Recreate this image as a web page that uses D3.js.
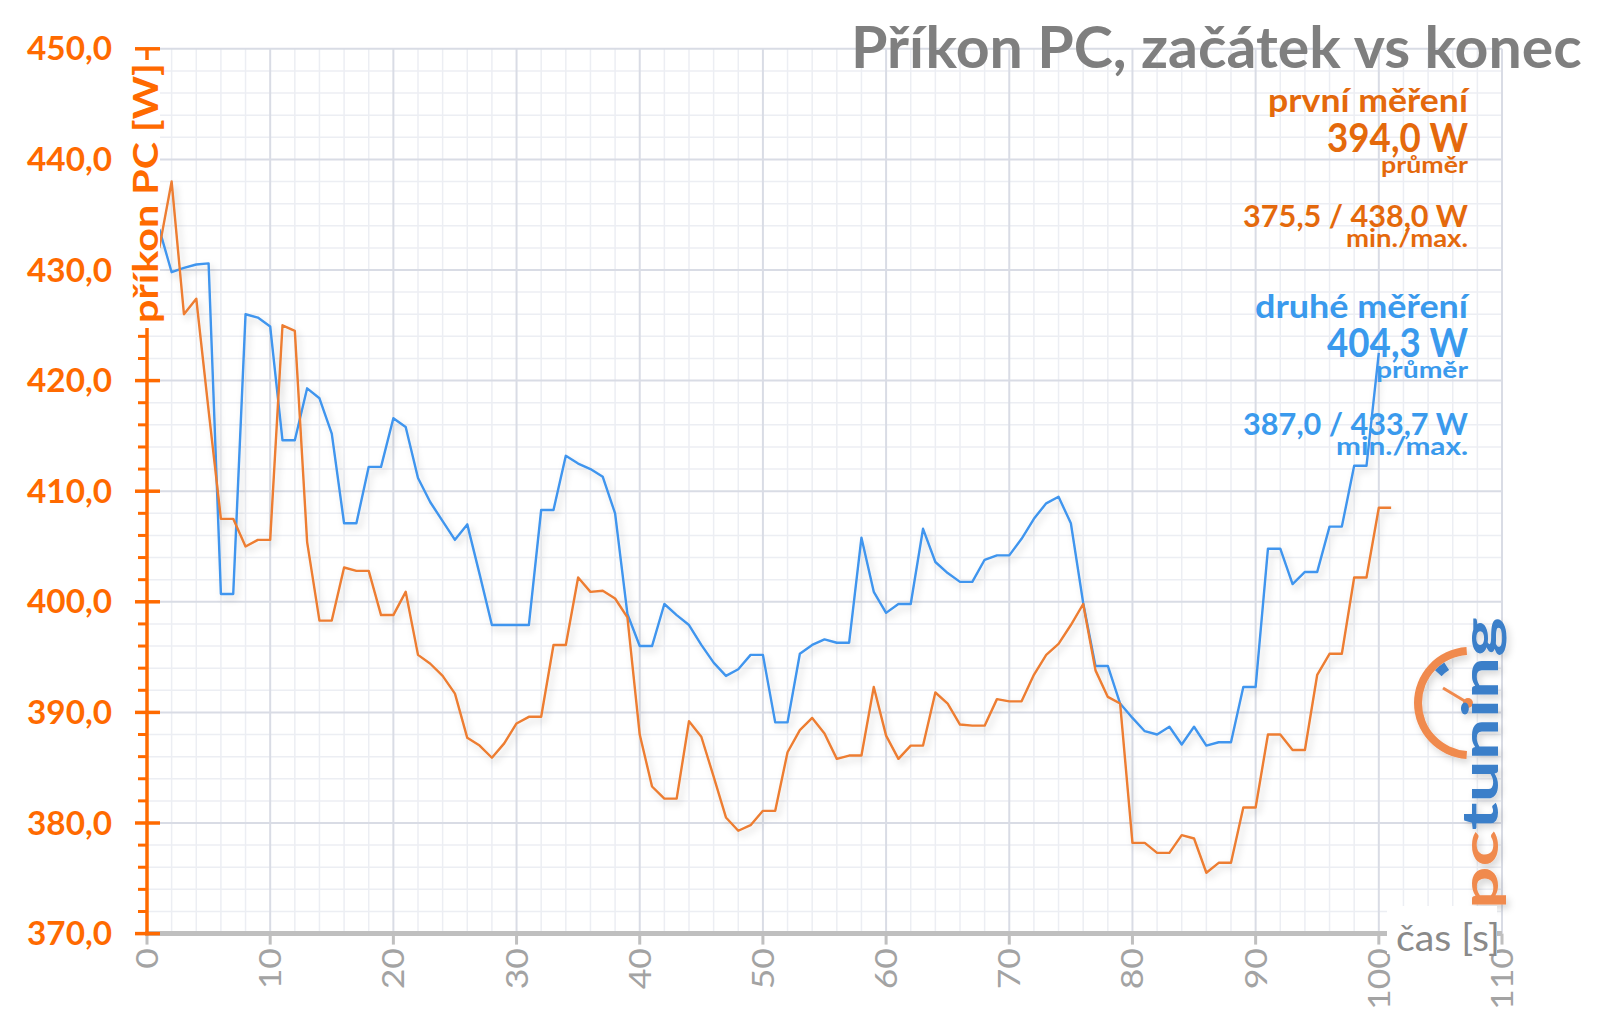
<!DOCTYPE html>
<html><head><meta charset="utf-8">
<script src="https://cdn.jsdelivr.net/npm/d3@7"></script>
<style>
html,body{margin:0;padding:0;background:#fff;}
svg{display:block;}
text{font-family:Lato,"Open Sans","DejaVu Sans",sans-serif;}
</style></head><body>
<svg id="chart" width="1600" height="1017"></svg>
<script>
// ---------------- data ----------------
const seconds = [1,2,3,4,5,6,7,8,9,10,11,12,13,14,15,16,17,18,19,20,21,22,23,24,25,26,27,28,29,30,
  31,32,33,34,35,36,37,38,39,40,41,42,43,44,45,46,47,48,49,50,51,52,53,54,55,56,57,58,59,60,
  61,62,63,64,65,66,67,68,69,70,71,72,73,74,75,76,77,78,79,80,81,82,83,84,85,86,87,88,89,90,
  91,92,93,94,95,96,97,98,99,100,101];
const prvniMereni = [432.0,438.0,426.0,427.4,417.3,407.5,407.5,405.0,405.6,405.6,
  425.0,424.5,405.4,398.3,398.3,403.1,402.8,402.8,398.8,398.8,
  400.9,395.2,394.4,393.3,391.7,387.7,387.0,385.9,387.2,389.0,
  389.6,389.6,396.1,396.1,402.2,400.9,401.0,400.3,398.6,388.0,
  383.3,382.2,382.2,389.2,387.8,384.2,380.5,379.3,379.8,381.1,
  381.1,386.4,388.4,389.5,388.1,385.8,386.1,386.1,392.3,387.9,
  385.8,387.0,387.0,391.8,390.8,388.9,388.8,388.8,391.2,391.0,
  391.0,393.4,395.2,396.2,397.9,399.8,393.8,391.4,390.8,378.2,
  378.2,377.3,377.3,378.9,378.6,375.5,376.4,376.4,381.4,381.4,
  388.0,388.0,386.6,386.6,393.4,395.3,395.3,402.2,402.2,408.5,408.5];
const druheMereni = [433.7,429.8,430.2,430.5,430.6,400.7,400.7,426.0,425.7,424.9,
  414.6,414.6,419.3,418.4,415.2,407.1,407.1,412.2,412.2,416.6,
  415.8,411.2,409.0,407.3,405.6,407.0,402.5,397.9,397.9,397.9,
  397.9,408.3,408.3,413.2,412.5,412.0,411.3,408.0,398.9,396.0,
  396.0,399.8,398.8,397.9,396.1,394.5,393.3,393.9,395.2,395.2,
  389.1,389.1,395.3,396.1,396.6,396.3,396.3,405.8,400.9,399.0,
  399.8,399.8,406.6,403.6,402.6,401.8,401.8,403.8,404.2,404.2,
  405.7,407.5,408.9,409.5,407.1,399.9,394.2,394.2,390.8,389.5,
  388.3,388.0,388.7,387.1,388.7,387.0,387.3,387.3,392.3,392.3,
  404.8,404.8,401.6,402.7,402.7,406.8,406.8,412.3,412.3,422.5];
const yTicks = [370,380,390,400,410,420,430,440,450];
const xTicks = [0,10,20,30,40,50,60,70,80,90,100,110];
const chartTitle = "Příkon PC, začátek vs konec";
const yTitle = "příkon PC [W]";
const xTitle = "čas [s]";
const legendFirst = ["první měření","394,0 W","průměr","375,5 / 438,0 W","min./max."];
const legendSecond = ["druhé měření","404,3 W","průměr","387,0 / 433,7 W","min./max."];
const logoParts = ["pc","tuning"];

// ---------------- layout ----------------
const svg = d3.select("#chart");
const X0 = 147, X1 = 1502, YT = 48.8, YB = 933.6;
const x = d3.scaleLinear().domain([0,110]).range([X0,X1]);
const y = d3.scaleLinear().domain([370,450]).range([YB,YT]);
const fmt = v => d3.format(".1f")(v).replace(".", ",");

const C = {
  orangeLine:"#ed7d31", blueLine:"#3f95ee",
  axisOrange:"#ff6a00", legOrange:"#e4690c", legBlue:"#3a9aed",
  gridMajor:"#d9dce5", gridMinor:"#eceef3", xAxis:"#bfbfbf", xLab:"#a3a3a3",
  title:"#7f7f7f", xTitle:"#8a8a8a"
};

const defs = svg.append("defs");
const sh = defs.append("filter").attr("id","shadow").attr("x","-10%").attr("y","-10%").attr("width","130%").attr("height","130%");
sh.append("feDropShadow").attr("dx",3).attr("dy",4).attr("stdDeviation",3.5)
  .attr("flood-color","#000").attr("flood-opacity",0.16);

// grid
const minorX = d3.range(0,111,2), minorY = d3.range(370,451,2);
const grid = svg.append("g");
grid.selectAll(".vx").data(minorX.filter(d=>d%10!==0)).join("line")
  .attr("x1",d=>x(d)).attr("x2",d=>x(d)).attr("y1",YT).attr("y2",YB)
  .attr("stroke",C.gridMinor).attr("stroke-width",1.5);
grid.selectAll(".hy").data(minorY.filter(d=>d%10!==0)).join("line")
  .attr("y1",d=>y(d)).attr("y2",d=>y(d)).attr("x1",X0).attr("x2",X1)
  .attr("stroke",C.gridMinor).attr("stroke-width",1.5);
grid.selectAll(".vX").data(xTicks).join("line")
  .attr("x1",d=>x(d)).attr("x2",d=>x(d)).attr("y1",YT).attr("y2",YB)
  .attr("stroke",C.gridMajor).attr("stroke-width",2);
grid.selectAll(".hY").data(yTicks).join("line")
  .attr("y1",d=>y(d)).attr("y2",d=>y(d)).attr("x1",X0).attr("x2",X1)
  .attr("stroke",C.gridMajor).attr("stroke-width",2);

// helper: text scaled horizontally to a target length
function fitText(parent, str, tx, ty, opts){
  const g = parent.append("g").attr("transform", `translate(${tx},${ty})` + (opts.rotate?` rotate(${opts.rotate})`:""));
  const t = g.append("text").text(str)
    .attr("text-anchor", opts.anchor||"start")
    .attr("font-size", opts.size).attr("font-weight", opts.weight||700)
    .attr("fill", opts.fill);
  if (opts.width){
    const w = t.node().getComputedTextLength();
    t.attr("transform", `scale(${opts.width/w},1)`);
  }
  return g;
}

// logo (behind lines)
const logo = svg.append("g").attr("filter","url(#shadow)");
const arc = d3.arc();
logo.append("path").attr("transform","translate(1470,703)")
  .attr("d", arc({innerRadius:48, outerRadius:56, startAngle:Math.PI*1.02, endAngle:Math.PI*1.98}))
  .attr("fill","#f08a4e");
logo.append("path").attr("transform","translate(1470,703)")
  .attr("d", arc({innerRadius:39, outerRadius:48, startAngle:Math.PI*1.74, endAngle:Math.PI*1.82}))
  .attr("fill","#3b7fc9");
logo.append("line").attr("x1",1468).attr("y1",703).attr("x2",1443).attr("y2",688)
  .attr("stroke","#f08a4e").attr("stroke-width",3);
logo.append("circle").attr("cx",1468).attr("cy",703).attr("r",5).attr("fill","#f08a4e");
{
  const g = logo.append("g").attr("transform","translate(1498,909) rotate(-90)");
  const t = g.append("text").attr("font-size",50).attr("font-weight",700);
  t.append("tspan").text(logoParts[0]).attr("fill","#f08a4e");
  t.append("tspan").text(logoParts[1]).attr("fill","#3b7fc9");
  const w = t.node().getComputedTextLength();
  t.attr("transform",`scale(${292/w},1)`);
}

// x axis
svg.append("line").attr("x1",X0-2).attr("x2",X1).attr("y1",YB).attr("y2",YB)
  .attr("stroke",C.xAxis).attr("stroke-width",5);
svg.append("g").selectAll("line").data(xTicks).join("line")
  .attr("x1",d=>x(d)).attr("x2",d=>x(d)).attr("y1",YB).attr("y2",YB+11)
  .attr("stroke",C.xAxis).attr("stroke-width",3);
{
  const probe = svg.append("text").text("100").attr("font-size",30).attr("font-weight",400);
  const s = 62/probe.node().getComputedTextLength(); probe.remove();
  const xl = svg.append("g");
  xTicks.forEach(d=>{
    xl.append("g").attr("transform",`translate(${x(d)+11},${948}) rotate(-90)`)
      .append("text").text(String(d)).attr("text-anchor","end")
      .attr("font-size",30).attr("font-weight",400).attr("fill",C.xLab)
      .attr("transform",`scale(${s},1)`);
  });
}
// x title with white box
svg.append("rect").attr("x",1387).attr("y",906).attr("width",110).attr("height",48).attr("fill","#fff");
fitText(svg, xTitle, 1396, 951, {size:37, weight:400, fill:C.xTitle, width:104});

// lines
const line = d3.line().x((d,i)=>x(seconds[i])).y(d=>y(d));
const lines = svg.append("g").attr("filter","url(#shadow)");
lines.append("path").attr("d", line(druheMereni)).attr("fill","none")
  .attr("stroke",C.blueLine).attr("stroke-width",2.4).attr("stroke-linejoin","round");
lines.append("path").attr("d", line(prvniMereni)).attr("fill","none")
  .attr("stroke",C.orangeLine).attr("stroke-width",2.4).attr("stroke-linejoin","round");

// y axis
const ya = svg.append("g");
ya.append("line").attr("x1",X0).attr("x2",X0).attr("y1",YT-1).attr("y2",YB+2)
  .attr("stroke",C.axisOrange).attr("stroke-width",3.5);
ya.selectAll(".mn").data(minorY.filter(d=>d%10!==0)).join("line")
  .attr("x1",X0-9).attr("x2",X0).attr("y1",d=>y(d)).attr("y2",d=>y(d))
  .attr("stroke",C.axisOrange).attr("stroke-width",3);
ya.selectAll(".mj").data(yTicks).join("line")
  .attr("x1",X0-12).attr("x2",X0+13).attr("y1",d=>y(d)).attr("y2",d=>y(d))
  .attr("stroke",C.axisOrange).attr("stroke-width",3.5);
yTicks.forEach(d=>{
  fitText(ya, fmt(d), 112, y(d)+11.5, {size:32, weight:700, fill:C.axisOrange, anchor:"end", width:85});
});
// y title with white background
{
  const g = svg.append("g");
  g.append("rect").attr("fill","#fff").attr("x",128).attr("y",60).attr("width",32).attr("height",268);
  fitText(g, yTitle, 158, 193, {size:34, weight:700, fill:C.axisOrange, anchor:"middle", rotate:-90, width:260});
}

// title
fitText(svg, chartTitle, 851, 68, {size:57, weight:700, fill:C.title, width:731});

// legend
const legX = 1468;
const legLayout = [
  {y:112, size:33, w:200}, {y:152, size:40, w:141}, {y:173, size:23, w:87},
  {y:227, size:30, w:225}, {y:247, size:25, w:122}
];
const legLayout2 = [
  {y:318, size:33, w:213}, {y:357, size:40, w:141}, {y:378, size:23, w:92},
  {y:435, size:30, w:225}, {y:455, size:25, w:132}
];
legendFirst.forEach((s,i)=>fitText(svg, s, legX, legLayout[i].y, {size:legLayout[i].size, fill:C.legOrange, anchor:"end", width:legLayout[i].w}));
legendSecond.forEach((s,i)=>fitText(svg, s, legX, legLayout2[i].y, {size:legLayout2[i].size, fill:C.legBlue, anchor:"end", width:legLayout2[i].w}));
</script>
</body></html>
